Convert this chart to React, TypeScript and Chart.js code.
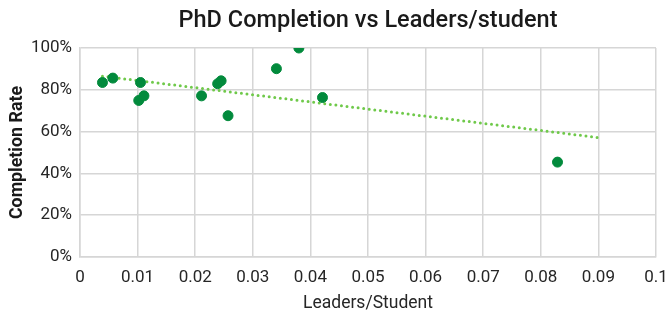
import React, { useEffect, useRef } from "react";
import { Chart, registerables } from "chart.js";

Chart.register(...registerables);

// Data
const leadersPerStudent = [0.0039, 0.0057, 0.0105, 0.0102, 0.0111, 0.0211, 0.0239, 0.0245, 0.0257, 0.0341, 0.038, 0.0421, 0.0829];
const completionRate = [0.835, 0.856, 0.835, 0.749, 0.771, 0.771, 0.829, 0.843, 0.676, 0.901, 1.0, 0.763, 0.454];
const trendForecastTo = 0.09;
const xTickValues = [0, 0.01, 0.02, 0.03, 0.04, 0.05, 0.06, 0.07, 0.08, 0.09, 0.1];
const yTickValues = [0, 0.2, 0.4, 0.6, 0.8, 1.0];

const chartTitle = "PhD Completion vs Leaders/student";
const xAxisTitle = "Leaders/Student";
const yAxisTitle = "Completion Rate";

const W = 667;
const H = 313;

function linearFit(xs: number[], ys: number[]) {
  const n = xs.length;
  const mx = xs.reduce((a, b) => a + b, 0) / n;
  const my = ys.reduce((a, b) => a + b, 0) / n;
  let sxy = 0;
  let sxx = 0;
  for (let i = 0; i < n; i++) {
    sxy += (xs[i] - mx) * (ys[i] - my);
    sxx += (xs[i] - mx) * (xs[i] - mx);
  }
  const slope = sxy / sxx;
  return { slope, intercept: my - slope * mx };
}

const titlesPlugin = {
  id: "customTitles",
  afterDraw(chart: any) {
    const { ctx, chartArea } = chart;
    const cx = (chartArea.left + chartArea.right) / 2;
    const cy = (chartArea.top + chartArea.bottom) / 2;
    ctx.save();
    ctx.fillStyle = "#1a1a1a";
    ctx.textAlign = "center";
    ctx.textBaseline = "alphabetic";
    ctx.font = "500 23.5px Roboto";
    ctx.fillText(chartTitle, cx, 27);
    ctx.font = "400 17.5px Roboto";
    ctx.fillStyle = "#262626";
    ctx.fillText(xAxisTitle, cx, 308);
    ctx.translate(21.7, cy);
    ctx.rotate(-Math.PI / 2);
    ctx.font = "700 17.8px Roboto";
    ctx.fillStyle = "#1a1a1a";
    ctx.fillText(yAxisTitle, 0, 0);
    ctx.restore();
  },
};

export default function App() {
  const canvasRef = useRef<HTMLCanvasElement | null>(null);

  useEffect(() => {
    document.body.style.margin = "0";
    const canvas = canvasRef.current;
    if (!canvas) return;
    const points = leadersPerStudent.map((x, i) => ({ x, y: completionRate[i] }));
    const { slope, intercept } = linearFit(leadersPerStudent, completionRate);
    const minX = Math.min(...leadersPerStudent);
    const trend = [
      { x: minX, y: intercept + slope * minX },
      { x: trendForecastTo, y: intercept + slope * trendForecastTo },
    ];
    const gridColor = "#d6d6d6";
    const chart = new Chart(canvas, {
      type: "scatter",
      data: {
        datasets: [
          {
            label: "Completion",
            data: points,
            backgroundColor: "#028a3c",
            borderColor: "#028a3c",
            pointRadius: 5,
            pointHoverRadius: 5,
            order: 0,
          },
          {
            label: "Trend",
            type: "line",
            data: trend,
            showLine: true,
            borderColor: "#6fc94a",
            borderWidth: 3,
            borderDash: [0, 5.6],
            borderCapStyle: "round",
            pointRadius: 0,
            fill: false,
            order: 1,
          } as any,
        ],
      },
      options: {
        responsive: false,
        animation: false,
        devicePixelRatio: 1,
        layout: { padding: { left: 0, right: 11, top: 48, bottom: 0 } },
        plugins: {
          legend: { display: false },
          title: { display: false },
          tooltip: { enabled: false },
        },
        scales: {
          x: {
            type: "linear",
            min: 0,
            max: 0.1,
            afterBuildTicks: (s: any) => {
              s.ticks = xTickValues.map((v) => ({ value: v }));
            },
            afterFit: (s: any) => {
              s.height = 56;
              s.paddingRight = 0;
              s.paddingLeft = 0;
            },
            ticks: {
              color: "#262626",
              font: { family: "Roboto", size: 17 },
              padding: 11,
              maxRotation: 0,
              autoSkip: false,
              callback: (v: any) => String(Number(v)),
            },
            grid: { color: gridColor, lineWidth: 1.5, drawTicks: false },
            border: { color: gridColor, width: 1.5 },
          },
          y: {
            type: "linear",
            min: 0,
            max: 1,
            afterBuildTicks: (s: any) => {
              s.ticks = yTickValues.map((v) => ({ value: v }));
            },
            afterFit: (s: any) => {
              s.width = 80;
              s.paddingTop = 0;
              s.paddingBottom = 0;
            },
            ticks: {
              color: "#262626",
              font: { family: "Roboto", size: 17 },
              padding: 8,
              callback: (v: any) => Math.round(Number(v) * 100) + "%",
            },
            grid: { color: gridColor, lineWidth: 1.5, drawTicks: false },
            border: { color: gridColor, width: 1.5 },
          },
        },
      },
      plugins: [titlesPlugin],
    });
    return () => chart.destroy();
  }, []);

  return (
    <div style={{ position: "absolute", left: 0, top: 0, width: W, height: H, background: "#fff" }}>
      <canvas ref={canvasRef} width={W} height={H} style={{ width: W, height: H, display: "block" }} />
    </div>
  );
}
